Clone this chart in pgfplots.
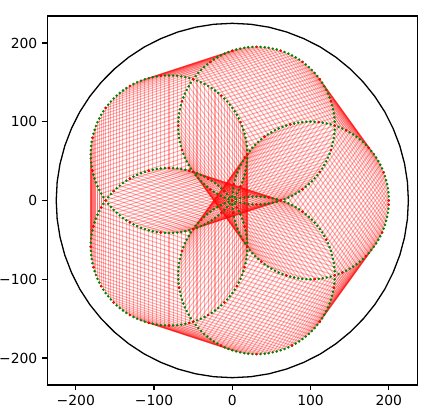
\documentclass[border=0pt]{standalone}
\usepackage{fontspec}
\setmainfont{DejaVu Sans}
\usepackage{pgfplots}
\usepackage{pgfplotstable}
\pgfplotsset{compat=1.18}
\definecolor{mplgreen}{rgb}{0,0.5,0}
% points of the five circles (radius 100, centres at 100 units, angles 0,72,144,216,288), every 3 degrees
\pgfplotstableread{
x0 x14 x23 y0 y1 y2 y3 y4
200.0 130.9 19.1 0.0 95.1 58.8 -58.8 -95.1
199.9 130.8 19.0 5.2 100.3 64.0 -53.6 -89.9
199.5 130.4 18.6 10.5 105.6 69.3 -48.3 -84.6
198.8 129.7 17.9 15.6 110.7 74.4 -43.2 -79.5
197.8 128.7 16.9 20.8 115.9 79.6 -38.0 -74.3
196.6 127.5 15.7 25.9 121.0 84.7 -32.9 -69.2
195.1 126.0 14.2 30.9 126.0 89.7 -27.9 -64.2
193.4 124.3 12.5 35.8 130.9 94.6 -23.0 -59.3
191.4 122.3 10.5 40.7 135.8 99.5 -18.1 -54.4
189.1 120.0 8.2 45.4 140.5 104.2 -13.4 -49.7
186.6 117.5 5.7 50.0 145.1 108.8 -8.8 -45.1
183.9 114.8 3.0 54.5 149.6 113.3 -4.3 -40.6
180.9 111.8 0.0 58.8 153.9 117.6 0.0 -36.3
177.7 108.6 -3.2 62.9 158.0 121.7 4.1 -32.2
174.3 105.2 -6.6 66.9 162.0 125.7 8.1 -28.2
170.7 101.6 -10.2 70.7 165.8 129.5 11.9 -24.4
166.9 97.8 -14.0 74.3 169.4 133.1 15.5 -20.8
162.9 93.8 -18.0 77.7 172.8 136.5 18.9 -17.4
158.8 89.7 -22.1 80.9 176.0 139.7 22.1 -14.2
154.5 85.4 -26.4 83.9 179.0 142.7 25.1 -11.2
150.0 80.9 -30.9 86.6 181.7 145.4 27.8 -8.5
145.4 76.3 -35.5 89.1 184.2 147.9 30.3 -6.0
140.7 71.6 -40.2 91.4 186.5 150.2 32.6 -3.7
135.8 66.7 -45.1 93.4 188.5 152.2 34.6 -1.7
130.9 61.8 -50.0 95.1 190.2 153.9 36.3 0.0
125.9 56.8 -55.0 96.6 191.7 155.4 37.8 1.5
120.8 51.7 -60.1 97.8 192.9 156.6 39.0 2.7
115.6 46.5 -65.3 98.8 193.9 157.6 40.0 3.7
110.5 41.4 -70.4 99.5 194.6 158.3 40.7 4.4
105.2 36.1 -75.7 99.9 195.0 158.7 41.1 4.8
100.0 30.9 -80.9 100.0 195.1 158.8 41.2 4.9
94.8 25.7 -86.1 99.9 195.0 158.7 41.1 4.8
89.5 20.4 -91.4 99.5 194.6 158.3 40.7 4.4
84.4 15.3 -96.5 98.8 193.9 157.6 40.0 3.7
79.2 10.1 -101.7 97.8 192.9 156.6 39.0 2.7
74.1 5.0 -106.8 96.6 191.7 155.4 37.8 1.5
69.1 0.0 -111.8 95.1 190.2 153.9 36.3 0.0
64.2 -4.9 -116.7 93.4 188.5 152.2 34.6 -1.7
59.3 -9.8 -121.6 91.4 186.5 150.2 32.6 -3.7
54.6 -14.5 -126.3 89.1 184.2 147.9 30.3 -6.0
50.0 -19.1 -130.9 86.6 181.7 145.4 27.8 -8.5
45.5 -23.6 -135.4 83.9 179.0 142.7 25.1 -11.2
41.2 -27.9 -139.7 80.9 176.0 139.7 22.1 -14.2
37.1 -32.0 -143.8 77.7 172.8 136.5 18.9 -17.4
33.1 -36.0 -147.8 74.3 169.4 133.1 15.5 -20.8
29.3 -39.8 -151.6 70.7 165.8 129.5 11.9 -24.4
25.7 -43.4 -155.2 66.9 162.0 125.7 8.1 -28.2
22.3 -46.8 -158.6 62.9 158.0 121.7 4.1 -32.2
19.1 -50.0 -161.8 58.8 153.9 117.6 0.0 -36.3
16.1 -53.0 -164.8 54.5 149.6 113.3 -4.3 -40.6
13.4 -55.7 -167.5 50.0 145.1 108.8 -8.8 -45.1
10.9 -58.2 -170.0 45.4 140.5 104.2 -13.4 -49.7
8.6 -60.5 -172.3 40.7 135.8 99.5 -18.1 -54.4
6.6 -62.5 -174.3 35.8 130.9 94.6 -23.0 -59.3
4.9 -64.2 -176.0 30.9 126.0 89.7 -27.9 -64.2
3.4 -65.7 -177.5 25.9 121.0 84.7 -32.9 -69.2
2.2 -66.9 -178.7 20.8 115.9 79.6 -38.0 -74.3
1.2 -67.9 -179.7 15.6 110.7 74.4 -43.2 -79.5
0.5 -68.6 -180.4 10.5 105.6 69.3 -48.3 -84.6
0.1 -69.0 -180.8 5.2 100.3 64.0 -53.6 -89.9
0.0 -69.1 -180.9 0.0 95.1 58.8 -58.8 -95.1
0.1 -69.0 -180.8 -5.2 89.9 53.6 -64.0 -100.3
0.5 -68.6 -180.4 -10.5 84.6 48.3 -69.3 -105.6
1.2 -67.9 -179.7 -15.6 79.5 43.2 -74.4 -110.7
2.2 -66.9 -178.7 -20.8 74.3 38.0 -79.6 -115.9
3.4 -65.7 -177.5 -25.9 69.2 32.9 -84.7 -121.0
4.9 -64.2 -176.0 -30.9 64.2 27.9 -89.7 -126.0
6.6 -62.5 -174.3 -35.8 59.3 23.0 -94.6 -130.9
8.6 -60.5 -172.3 -40.7 54.4 18.1 -99.5 -135.8
10.9 -58.2 -170.0 -45.4 49.7 13.4 -104.2 -140.5
13.4 -55.7 -167.5 -50.0 45.1 8.8 -108.8 -145.1
16.1 -53.0 -164.8 -54.5 40.6 4.3 -113.3 -149.6
19.1 -50.0 -161.8 -58.8 36.3 0.0 -117.6 -153.9
22.3 -46.8 -158.6 -62.9 32.2 -4.1 -121.7 -158.0
25.7 -43.4 -155.2 -66.9 28.2 -8.1 -125.7 -162.0
29.3 -39.8 -151.6 -70.7 24.4 -11.9 -129.5 -165.8
33.1 -36.0 -147.8 -74.3 20.8 -15.5 -133.1 -169.4
37.1 -32.0 -143.8 -77.7 17.4 -18.9 -136.5 -172.8
41.2 -27.9 -139.7 -80.9 14.2 -22.1 -139.7 -176.0
45.5 -23.6 -135.4 -83.9 11.2 -25.1 -142.7 -179.0
50.0 -19.1 -130.9 -86.6 8.5 -27.8 -145.4 -181.7
54.6 -14.5 -126.3 -89.1 6.0 -30.3 -147.9 -184.2
59.3 -9.8 -121.6 -91.4 3.7 -32.6 -150.2 -186.5
64.2 -4.9 -116.7 -93.4 1.7 -34.6 -152.2 -188.5
69.1 0.0 -111.8 -95.1 0.0 -36.3 -153.9 -190.2
74.1 5.0 -106.8 -96.6 -1.5 -37.8 -155.4 -191.7
79.2 10.1 -101.7 -97.8 -2.7 -39.0 -156.6 -192.9
84.4 15.3 -96.5 -98.8 -3.7 -40.0 -157.6 -193.9
89.5 20.4 -91.4 -99.5 -4.4 -40.7 -158.3 -194.6
94.8 25.7 -86.1 -99.9 -4.8 -41.1 -158.7 -195.0
100.0 30.9 -80.9 -100.0 -4.9 -41.2 -158.8 -195.1
105.2 36.1 -75.7 -99.9 -4.8 -41.1 -158.7 -195.0
110.5 41.4 -70.4 -99.5 -4.4 -40.7 -158.3 -194.6
115.6 46.5 -65.3 -98.8 -3.7 -40.0 -157.6 -193.9
120.8 51.7 -60.1 -97.8 -2.7 -39.0 -156.6 -192.9
125.9 56.8 -55.0 -96.6 -1.5 -37.8 -155.4 -191.7
130.9 61.8 -50.0 -95.1 0.0 -36.3 -153.9 -190.2
135.8 66.7 -45.1 -93.4 1.7 -34.6 -152.2 -188.5
140.7 71.6 -40.2 -91.4 3.7 -32.6 -150.2 -186.5
145.4 76.3 -35.5 -89.1 6.0 -30.3 -147.9 -184.2
150.0 80.9 -30.9 -86.6 8.5 -27.8 -145.4 -181.7
154.5 85.4 -26.4 -83.9 11.2 -25.1 -142.7 -179.0
158.8 89.7 -22.1 -80.9 14.2 -22.1 -139.7 -176.0
162.9 93.8 -18.0 -77.7 17.4 -18.9 -136.5 -172.8
166.9 97.8 -14.0 -74.3 20.8 -15.5 -133.1 -169.4
170.7 101.6 -10.2 -70.7 24.4 -11.9 -129.5 -165.8
174.3 105.2 -6.6 -66.9 28.2 -8.1 -125.7 -162.0
177.7 108.6 -3.2 -62.9 32.2 -4.1 -121.7 -158.0
180.9 111.8 0.0 -58.8 36.3 0.0 -117.6 -153.9
183.9 114.8 3.0 -54.5 40.6 4.3 -113.3 -149.6
186.6 117.5 5.7 -50.0 45.1 8.8 -108.8 -145.1
189.1 120.0 8.2 -45.4 49.7 13.4 -104.2 -140.5
191.4 122.3 10.5 -40.7 54.4 18.1 -99.5 -135.8
193.4 124.3 12.5 -35.8 59.3 23.0 -94.6 -130.9
195.1 126.0 14.2 -30.9 64.2 27.9 -89.7 -126.0
196.6 127.5 15.7 -25.9 69.2 32.9 -84.7 -121.0
197.8 128.7 16.9 -20.8 74.3 38.0 -79.6 -115.9
198.8 129.7 17.9 -15.6 79.5 43.2 -74.4 -110.7
199.5 130.4 18.6 -10.5 84.6 48.3 -69.3 -105.6
199.9 130.8 19.0 -5.2 89.9 53.6 -64.0 -100.3
}\pts
\begin{document}
\begin{tikzpicture}
\begin{axis}[
  scale only axis, width=370pt, height=369pt,
  xmin=-236.4, xmax=236.4, ymin=-234.3, ymax=234.3,
  axis line style={line width=1.1pt},
  tick align=outside, major tick length=4.9pt,
  tick style={line width=1.1pt, black},
  xtick pos=left, ytick pos=left,
  xtick={-200,-100,0,100,200}, ytick={-200,-100,0,100,200},
  xticklabels={−200,−100,0,100,200},
  yticklabels={−200,−100,0,100,200},
  ticklabel style={font=\fontsize{13.9}{16}\selectfont},
  xticklabel style={inner sep=0pt, yshift=-4.9pt},
  yticklabel style={inner sep=0pt, xshift=-4.9pt},
  minor tick num=0, clip=false,
]
\pgfplotsset{hatch/.style={red, opacity=0.32, line width=1.05pt, no markers, forget plot}}
\addplot[hatch, quiver={u=-69.1, v=95.1}] table[x=x0, y=y0] {\pts};
\addplot[hatch, quiver={u=-111.8, v=-36.3}] table[x=x14, y=y1] {\pts};
\addplot[hatch, quiver={u=0, v=-117.6}] table[x=x23, y=y2] {\pts};
\addplot[hatch, quiver={u=111.8, v=-36.3}] table[x=x23, y=y3] {\pts};
\addplot[hatch, quiver={u=69.1, v=95.1}] table[x=x14, y=y4] {\pts};
\addplot[black, line width=1.3pt, no markers] coordinates {
(225.0,0) (223.8,23.5) (220.1,46.8) (214.0,69.5) (205.5,91.5) (194.9,112.5) (182.0,132.3) (167.2,150.5) (150.5,167.2) (132.3,182.0) (112.5,194.9) (91.5,205.5) (69.5,214.0) (46.8,220.1) (23.5,223.8) (0,225.0)
(-23.5,223.8) (-46.8,220.1) (-69.5,214.0) (-91.5,205.5) (-112.5,194.9) (-132.3,182.0) (-150.5,167.2) (-167.2,150.5) (-182.0,132.3) (-194.9,112.5) (-205.5,91.5) (-214.0,69.5) (-220.1,46.8) (-223.8,23.5) (-225.0,0)
(-223.8,-23.5) (-220.1,-46.8) (-214.0,-69.5) (-205.5,-91.5) (-194.9,-112.5) (-182.0,-132.3) (-167.2,-150.5) (-150.5,-167.2) (-132.3,-182.0) (-112.5,-194.9) (-91.5,-205.5) (-69.5,-214.0) (-46.8,-220.1) (-23.5,-223.8) (0,-225.0)
(23.5,-223.8) (46.8,-220.1) (69.5,-214.0) (91.5,-205.5) (112.5,-194.9) (132.3,-182.0) (150.5,-167.2) (167.2,-150.5) (182.0,-132.3) (194.9,-112.5) (205.5,-91.5) (214.0,-69.5) (220.1,-46.8) (223.8,-23.5) (225.0,0)
};
\pgfplotsset{gdot/.style={only marks, mark=*, mark size=1.05pt, mplgreen, mark options={draw=none, fill=mplgreen}},
             rdot/.style={only marks, mark=*, mark size=1.05pt, red, mark options={draw=none, fill=red}, filter discard warning=false}}
\addplot[gdot] table[x=x0, y=y0] {\pts};
\addplot[gdot] table[x=x14, y=y1] {\pts};
\addplot[gdot] table[x=x23, y=y2] {\pts};
\addplot[gdot] table[x=x23, y=y3] {\pts};
\addplot[gdot] table[x=x14, y=y4] {\pts};
\addplot[rdot, each nth point=7] table[x=x0, y=y0] {\pts};
\addplot[rdot, each nth point=6] table[x=x14, y=y1] {\pts};
\addplot[rdot, each nth point=8] table[x=x23, y=y2] {\pts};
\addplot[rdot, each nth point=5] table[x=x23, y=y3] {\pts};
\addplot[rdot, each nth point=9] table[x=x14, y=y4] {\pts};
\end{axis}
\pgfresetboundingbox
\path[use as bounding box] ([xshift=-47.3pt,yshift=-32pt]current axis.south west) rectangle ([xshift=28.7pt,yshift=16pt]current axis.north east);
\end{tikzpicture}
\end{document}
